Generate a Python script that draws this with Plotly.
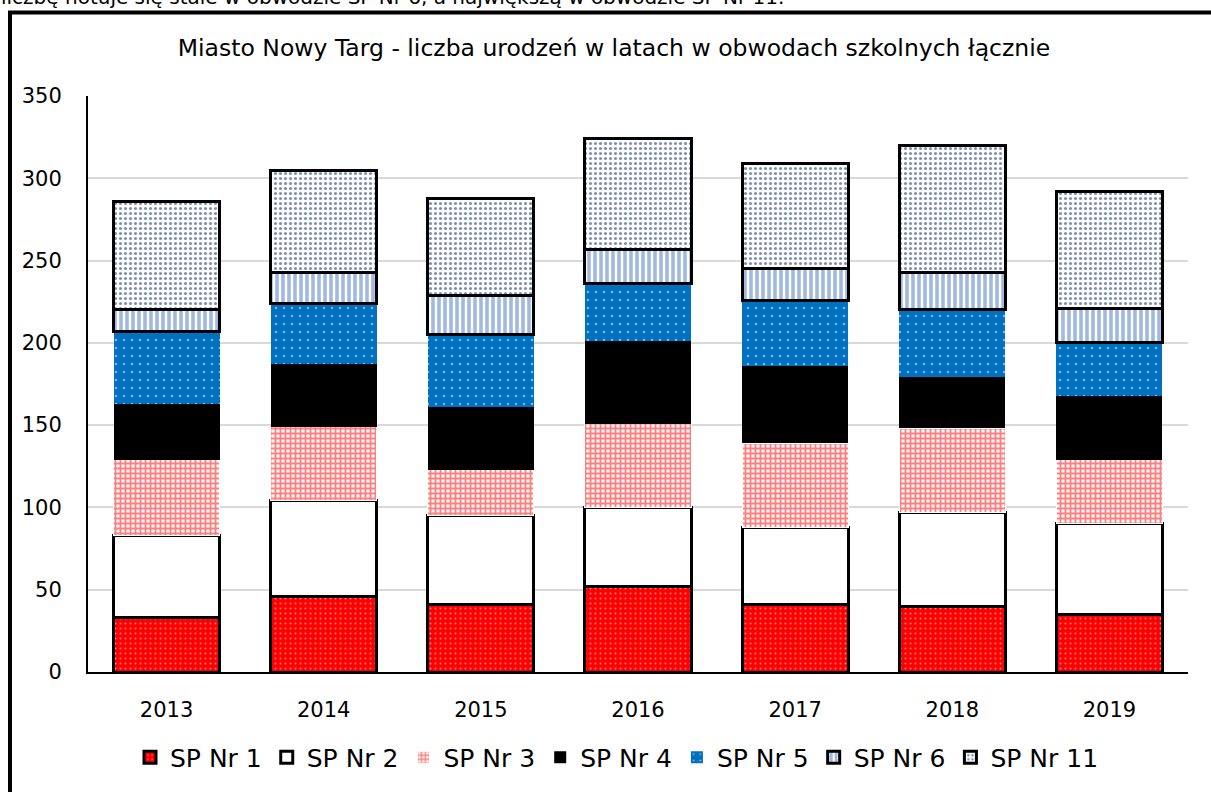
import plotly.graph_objects as go

years = ['2013', '2014', '2015', '2016', '2017', '2018', '2019']

sp1 = [33, 46, 41, 52, 41, 40, 35]
sp2 = [50, 58, 54, 48, 47, 57, 55]
sp3 = [46, 45, 28, 51, 51, 51, 39]
sp4 = [34, 38, 38, 50, 47, 31, 39]
sp5 = [44, 37, 44, 35, 40, 41, 32]
sp6 = [13, 19, 24, 21, 19, 23, 21]
sp11 = [66, 62, 59, 67, 64, 77, 71]

FONT = 'Tahoma, "DejaVu Sans", sans-serif'


def pat(shape, fg, bg, size, solidity):
    return dict(shape=shape, fgcolor=fg, bgcolor=bg, size=size, solidity=solidity)


series = [
    ('SP Nr 1', sp1, pat('.', 'white', '#ff0000', 5, 0.12), 'black', 3),
    ('SP Nr 2', sp2, None, 'black', 3),
    ('SP Nr 3', sp3, pat('+', '#ff0000', 'white', 5, 0.6), 'white', 1),
    ('SP Nr 4', sp4, None, 'black', 0),
    ('SP Nr 5', sp5, pat('.', 'white', '#0070c0', 8, 0.08), '#0070c0', 0),
    ('SP Nr 6', sp6, pat('|', '#4472c4', 'white', 6, 0.6), 'black', 3),
    ('SP Nr 11', sp11, pat('.', '#002060', 'white', 5, 0.3), 'black', 3),
]
fills = {'SP Nr 2': 'white', 'SP Nr 4': 'black'}

fig = go.Figure()
for name, vals, p, lc, lw in series:
    marker = dict(color=fills.get(name, 'white'), line=dict(color=lc, width=lw))
    if p:
        marker['pattern'] = p
    fig.add_trace(go.Bar(x=years, y=vals, name=name, marker=marker))

# plot area: x 88..1188 px, y 96..675 px
def px(x):
    return (x - 88) / 1100


def py(y):
    return (675 - y) / 579


fig.add_shape(type='rect', xref='paper', yref='paper',
              x0=px(10), x1=px(1225), y0=py(805), y1=py(12),
              line=dict(color='black', width=4), layer='above')

fig.add_annotation(text='liczbę notuje się stale w obwodzie SP Nr 6, a największą w obwodzie SP Nr 11.',
                   xref='paper', yref='paper', x=px(-1), y=py(-4), xanchor='left', yanchor='middle',
                   showarrow=False, font=dict(family=FONT, size=20, color='black'))

fig.update_layout(
    barmode='stack',
    bargap=0.325,
    width=1211, height=792,
    margin=dict(l=88, r=23, t=96, b=117),
    paper_bgcolor='white', plot_bgcolor='white',
    font=dict(family=FONT, color='black'),
    title=dict(text='Miasto Nowy Targ - liczba urodzeń w latach w obwodach szkolnych łącznie',
               x=614 / 1211, xanchor='center', y=1 - 48 / 792, yanchor='middle',
               font=dict(size=23.5, color='black')),
    legend=dict(orientation='h', x=px(617), xanchor='center', y=py(761), yanchor='middle',
                font=dict(size=25), traceorder='normal', itemwidth=30),
    showlegend=True,
)
fig.update_yaxes(range=[0, 350], dtick=50, showgrid=True, gridcolor='#d9d9d9', gridwidth=1.5,
                 showline=True, linecolor='black', linewidth=2, ticks='',
                 ticklabelstandoff=20, tickfont=dict(size=21), zeroline=False)
fig.update_xaxes(showline=True, linecolor='black', linewidth=1.5, ticks='',
                 ticklabelstandoff=18, tickfont=dict(size=21))

# the page body has a default 8px margin; drop it so the figure sits at the window corner
fig.write_html('out.html', config={'displayModeBar': False},
               post_script="document.body.style.margin='0px';")
